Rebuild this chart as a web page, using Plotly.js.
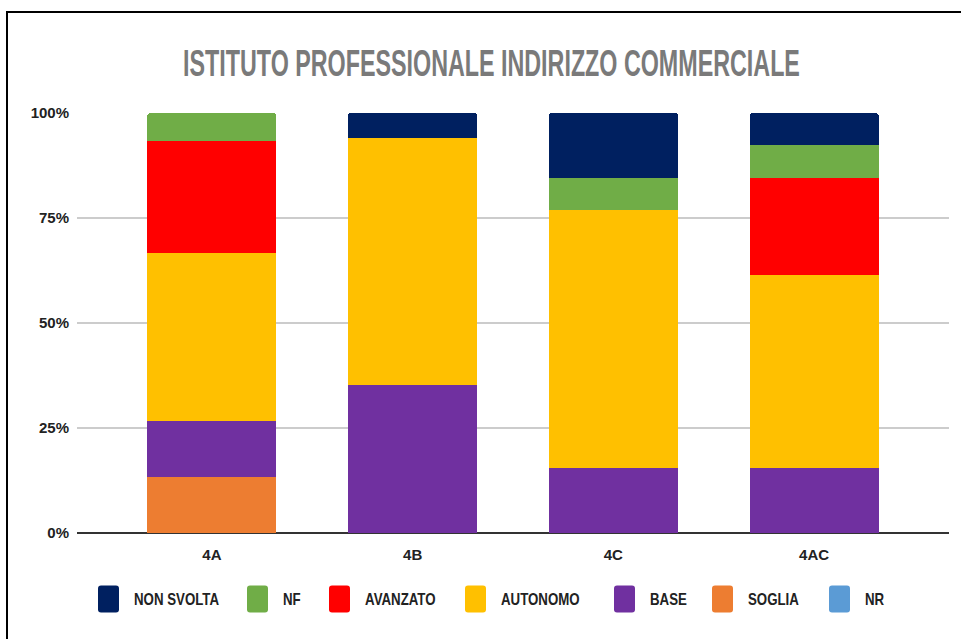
<!DOCTYPE html>
<html>
<head>
<meta charset="utf-8">
<script src="https://cdn.plot.ly/plotly-3.0.1.min.js"></script>
<style>
  html, body { margin: 0; padding: 0; background: #fff; }
  #wrap { position: relative; width: 961px; height: 639px; overflow: hidden; }
  #chart { width: 961px; height: 639px; }
  #frame { position: absolute; left: 6px; top: 11px; width: 1000px; height: 700px;
           border-top: 2px solid #000; border-left: 2px solid #000; pointer-events: none; }
</style>
</head>
<body>
<div id="wrap"><div id="chart"></div><div id="frame"></div></div>
<script>
// ---- data ----
const classes = ["4A", "4B", "4C", "4AC"];
// counts of students per level (stack order: bottom -> top)
const NR         = [0, 0, 0, 0];
const SOGLIA     = [2, 0, 0, 0];
const BASE       = [2, 6, 2, 2];
const AUTONOMO   = [6, 10, 8, 6];
const AVANZATO   = [4, 0, 0, 3];
const NF         = [1, 0, 1, 1];
const NON_SVOLTA = [0, 1, 2, 1];
const yTicks = [0, 25, 50, 75, 100];
const yTickLabels = ["0%", "25%", "50%", "75%", "100%"];
const chartTitle = "ISTITUTO PROFESSIONALE INDIRIZZO COMMERCIALE";

// series in stacking order, with colours
const series = [
  { name: "NR",         values: NR,         color: "#5B9BD5" },
  { name: "SOGLIA",     values: SOGLIA,     color: "#ED7D31" },
  { name: "BASE",       values: BASE,       color: "#7030A0" },
  { name: "AUTONOMO",   values: AUTONOMO,   color: "#FFC000" },
  { name: "AVANZATO",   values: AVANZATO,   color: "#FF0000" },
  { name: "NF",         values: NF,         color: "#70AD47" },
  { name: "NON SVOLTA", values: NON_SVOLTA, color: "#002060" }
];
const legendOrder = ["NON SVOLTA", "NF", "AVANZATO", "AUTONOMO", "BASE", "SOGLIA", "NR"];

// ---- layout geometry (pixels) ----
const W = 961, H = 639;
const M = { l: 77, r: 12, t: 113, b: 106 };
const plotW = W - M.l - M.r, plotH = H - M.t - M.b;
const px2x = px => (px - M.l) / plotW;
const py2y = py => (H - M.b - py) / plotH;
const legendMarkerX = [98, 247, 329, 465, 614, 712, 829];
const legendCenterY = 599;
const FONT = "'Liberation Sans Narrow', 'Arial Narrow', 'Liberation Sans', sans-serif";

const traces = series.map(s => ({
  type: "bar",
  name: s.name,
  x: classes,
  y: s.values,
  marker: { color: s.color, line: { width: 0 } },
  showlegend: false,
  hoverinfo: "x+y+name"
}));

const shapes = [], annotations = [];
legendOrder.forEach((nm, i) => {
  const s = series.find(q => q.name === nm);
  const cx = px2x(legendMarkerX[i] + 10.5);
  const cy = py2y(legendCenterY);
  const w = 10.5, h = 13.5, r = 3;
  shapes.push({
    type: "path", xref: "paper", yref: "paper",
    xsizemode: "pixel", ysizemode: "pixel", xanchor: cx, yanchor: cy,
    path: `M${-w + r},${-h} L${w - r},${-h} Q${w},${-h} ${w},${-h + r} L${w},${h - r} Q${w},${h} ${w - r},${h} L${-w + r},${h} Q${-w},${h} ${-w},${h - r} L${-w},${-h + r} Q${-w},${-h} ${-w + r},${-h} Z`,
    fillcolor: s.color, line: { width: 0 }
  });
  annotations.push({
    xref: "paper", yref: "paper", x: px2x(legendMarkerX[i] + 35), y: cy,
    xanchor: "left", yanchor: "middle", showarrow: false, text: nm,
    borderpad: 0,
    font: { family: FONT, size: 16, color: "#222222", weight: "bold" }
  });
});

const layout = {
  width: W, height: H,
  margin: M,
  paper_bgcolor: "#ffffff", plot_bgcolor: "#ffffff",
  barmode: "stack", barnorm: "percent",
  bargap: 0.357,
  barcornerradius: 3,
  title: {
    text: chartTitle,
    font: { family: FONT, size: 36, color: "#7a7a7a", weight: "bold" },
    x: 491.5 / W, xanchor: "center", xref: "paper",
    y: 1 - 63 / H, yanchor: "middle"
  },
  xaxis: {
    type: "category", range: [-0.672, 3.672],
    showgrid: false, showline: false, ticks: "", zeroline: false,
    tickfont: { family: FONT, size: 15, color: "#222222", weight: "bold" },
    ticklabelstandoff: 11,
    fixedrange: true
  },
  yaxis: {
    range: [0, 100], tickvals: yTicks, ticktext: yTickLabels,
    showgrid: true, gridcolor: "#cccccc", gridwidth: 1.5,
    zeroline: true, zerolinecolor: "#333333", zerolinewidth: 2,
    showline: false, ticks: "",
    tickfont: { family: FONT, size: 15, color: "#222222", weight: "bold" },
    ticklabelstandoff: 7,
    fixedrange: true
  },
  shapes: shapes,
  annotations: annotations,
  showlegend: false
};

function condense(el, s, anchor) {
  const bb = el.getBBox();
  const ax = anchor === "left" ? bb.x : anchor === "right" ? bb.x + bb.width : bb.x + bb.width / 2;
  el.setAttribute("transform", `translate(${ax},0) scale(${s},1) translate(${-ax},0)`);
}

Plotly.newPlot("chart", traces, layout, { staticPlot: true, displayModeBar: false }).then(gd => {
  // compress the title horizontally to mimic the condensed face of the original
  const t = gd.querySelector(".gtitle");
  if (t) {
    const bb = t.getBBox();
    const s = 617 / bb.width;
    const cx = bb.x + bb.width / 2;
    t.setAttribute("transform", `translate(491.5,0) scale(${s},1) translate(${-cx},0)`);
  }
  // condensed legend labels
  gd.querySelectorAll(".annotation-text").forEach(el => condense(el, 0.83, "left"));
});
</script>
</body>
</html>
